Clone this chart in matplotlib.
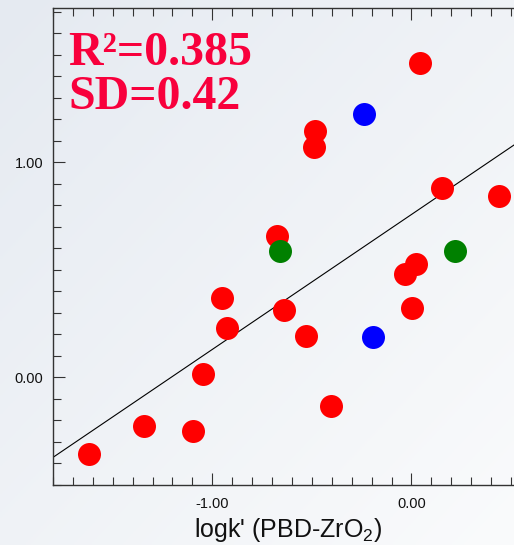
import numpy as np
import matplotlib
matplotlib.use("Agg")
import matplotlib.pyplot as plt
from matplotlib.ticker import MultipleLocator

red_x = [-1.621, -1.345, -1.099, -1.049, -0.950, -0.928, -0.674, -0.641, -0.528,
         -0.482, -0.490, -0.405, 0.045, -0.030, 0.024, 0.004, 0.154, 0.442]
red_y = [-0.355, -0.225, -0.248, 0.014, 0.369, 0.230, 0.659, 0.313, 0.191,
         1.147, 1.070, -0.135, 1.460, 0.481, 0.527, 0.323, 0.881, 0.845]
blue_x = [-0.239, -0.192]
blue_y = [1.225, 0.186]
green_x = [-0.661, 0.221]
green_y = [0.589, 0.586]

slope = 0.627
intercept = 0.757
r2_text = "R\u00b2=0.385"
sd_text = "SD=0.42"

plt.rcParams['font.family'] = ['Liberation Sans', 'DejaVu Sans']
plt.rcParams['mathtext.fontset'] = 'custom'
plt.rcParams['mathtext.rm'] = 'Liberation Sans'
plt.rcParams['mathtext.it'] = 'Liberation Sans:italic'

W, H = 514, 545
fig = plt.figure(figsize=(W / 100, H / 100), dpi=100)

# soft grey-blue background, darker top-left, lighter bottom-right
bg = fig.add_axes([0, 0, 1, 1], zorder=-10)
gy, gx = np.mgrid[0:1:200j, 0:1:200j]
t = np.clip((gx + gy) / 2, 0, 1)[..., None]
c0 = np.array([229, 234, 241]) / 255
c1 = np.array([250, 251, 252]) / 255
bg.imshow(c0 * (1 - t) + c1 * t, extent=[0, 1, 0, 1], aspect='auto')
bg.axis('off')

left, right, bottom, top = 53, 523, 485, 8.3
ax = fig.add_axes([left / W, 1 - bottom / H, (right - left) / W, (bottom - top) / H])
ax.set_facecolor('none')

ax.scatter(red_x, red_y, s=274, c='#ff0000', linewidths=0, zorder=3)
ax.scatter(blue_x, blue_y, s=274, c='#0000ff', linewidths=0, zorder=3)
ax.scatter(green_x, green_y, s=274, c='#008000', linewidths=0, zorder=4)

xlim = (-1.8, 0.56)
ylim = (-0.5, 1.715)
xs = np.array(xlim)
ax.plot(xs, slope * xs + intercept, color='black', lw=0.8, zorder=2)
ax.set_xlim(*xlim)
ax.set_ylim(*ylim)

ax.xaxis.set_major_locator(MultipleLocator(1.0))
ax.xaxis.set_minor_locator(MultipleLocator(0.1))
ax.yaxis.set_major_locator(MultipleLocator(1.0))
ax.yaxis.set_minor_locator(MultipleLocator(0.1))
ax.xaxis.set_major_formatter(lambda v, p: f"{v:.2f}" if abs(v) > 1e-9 else "0.00")
ax.yaxis.set_major_formatter(lambda v, p: f"{v:.2f}" if abs(v) > 1e-9 else "0.00")

ax.tick_params(which='both', direction='in', top=True, right=False,
               color='#333333', width=0.8, labelsize=10.5, labelcolor='#111111')
ax.tick_params(which='major', length=8.8)
ax.tick_params(which='minor', length=5.5)
ax.tick_params(axis='x', pad=8.5)
ax.tick_params(axis='y', pad=7)
for sp in ax.spines.values():
    sp.set_color('#333333')
    sp.set_linewidth(1.0)

ax.set_xlabel("logk' (PBD-ZrO$_2$)", fontsize=18, color='#111111')
ax.xaxis.label.set_verticalalignment('baseline')
ax.xaxis.set_label_coords((288.5 - left) / (right - left), -(537 - bottom) / (bottom - top))

fig.text(68 / W, 1 - 65 / H, r2_text, color='#f8003c', fontsize=34.5,
         fontweight='bold', family='Liberation Serif', va='baseline')
fig.text(68 / W, 1 - 109 / H, sd_text, color='#f8003c', fontsize=34.5,
         fontweight='bold', family='Liberation Serif', va='baseline')

fig.savefig('out.png', dpi=100)
